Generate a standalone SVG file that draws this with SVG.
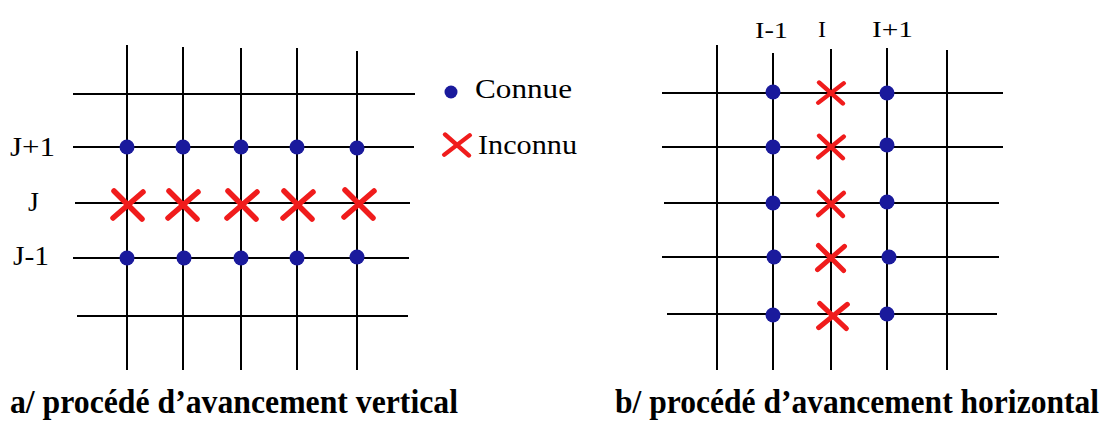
<svg xmlns="http://www.w3.org/2000/svg" xmlns:xlink="http://www.w3.org/1999/xlink" width="1108" height="422" viewBox="0 0 1108 422">
<style>
  .g { stroke: #000; stroke-width: 2; fill: none; }
  .dot { fill: #1a1a9c; }
  .lbl { font-family: "Liberation Serif", "Times New Roman", serif; fill: #000; }
  .cap { font-family: "Liberation Serif", "Times New Roman", serif; font-weight: bold; fill: #000; }
</style>
<defs>
  <path id="x" d="M-14,-14 L14,14 M-15,13 L15,-13" stroke="#f01c1c" stroke-width="5.5" stroke-linecap="round" fill="none"/>
  <circle id="d" r="7.5" class="dot"/>
</defs>
<rect width="1108" height="422" fill="#fff"/>

<g id="grid-a" class="g">
  <line x1="127" y1="45" x2="127" y2="370"/>
  <line x1="183" y1="47" x2="183" y2="370"/>
  <line x1="241" y1="48" x2="241" y2="370"/>
  <line x1="297" y1="48" x2="297" y2="370"/>
  <line x1="357" y1="51" x2="357" y2="370"/>
  <line x1="73" y1="94" x2="415" y2="94"/>
  <line x1="73" y1="147" x2="414" y2="147"/>
  <line x1="75" y1="203" x2="410" y2="203"/>
  <line x1="73" y1="258" x2="409" y2="258"/>
  <line x1="77" y1="316" x2="408" y2="316"/>
</g>
<g id="points-a">
  <use xlink:href="#d" x="127" y="147"/><use xlink:href="#d" x="183" y="147"/><use xlink:href="#d" x="241" y="147"/><use xlink:href="#d" x="297" y="147"/><use xlink:href="#d" x="357" y="148"/>
  <use xlink:href="#d" x="127" y="258"/><use xlink:href="#d" x="184" y="258"/><use xlink:href="#d" x="241" y="258"/><use xlink:href="#d" x="297" y="258"/><use xlink:href="#d" x="357" y="257"/>
  <use xlink:href="#x" x="128" y="205"/><use xlink:href="#x" x="183" y="205"/><use xlink:href="#x" x="242" y="205"/><use xlink:href="#x" x="298" y="205"/><use xlink:href="#x" x="359" y="204"/>
</g>
<g id="labels-a" class="lbl" font-size="28">
  <text x="10" y="156" textLength="45" lengthAdjust="spacingAndGlyphs">J+1</text>
  <text x="28" y="211">J</text>
  <text x="13" y="265" textLength="36" lengthAdjust="spacingAndGlyphs">J-1</text>
</g>

<g id="legend">
  <circle cx="451" cy="92" r="6.5" class="dot"/>
  <text class="lbl" x="475" y="98" font-size="28" textLength="97" lengthAdjust="spacingAndGlyphs">Connue</text>
  <use xlink:href="#x" transform="translate(457,145) scale(0.85,0.75)"/>
  <text class="lbl" x="478" y="154" font-size="28" textLength="99" lengthAdjust="spacingAndGlyphs">Inconnu</text>
</g>

<g id="grid-b" class="g">
  <line x1="717" y1="45" x2="717" y2="370"/>
  <line x1="773" y1="53" x2="773" y2="370"/>
  <line x1="831" y1="49" x2="831" y2="370"/>
  <line x1="887" y1="48" x2="887" y2="370"/>
  <line x1="947" y1="50" x2="947" y2="370"/>
  <line x1="662" y1="93" x2="1003" y2="93"/>
  <line x1="662" y1="147" x2="1003" y2="147"/>
  <line x1="664" y1="203" x2="999" y2="203"/>
  <line x1="662" y1="257" x2="999" y2="257"/>
  <line x1="667" y1="314" x2="997" y2="314"/>
</g>
<g id="points-b">
  <use xlink:href="#d" x="773" y="92"/><use xlink:href="#d" x="773" y="147"/><use xlink:href="#d" x="773" y="203"/><use xlink:href="#d" x="774" y="257"/><use xlink:href="#d" x="773" y="315"/>
  <use xlink:href="#d" x="887" y="93"/><use xlink:href="#d" x="887" y="145"/><use xlink:href="#d" x="887" y="202"/><use xlink:href="#d" x="889" y="257"/><use xlink:href="#d" x="887" y="314"/>
  <use xlink:href="#x" transform="translate(831,93) scale(0.85,0.75)"/>
  <use xlink:href="#x" transform="translate(831,147) scale(0.85,0.8)"/>
  <use xlink:href="#x" transform="translate(831,204) scale(0.85,0.85)"/>
  <use xlink:href="#x" transform="translate(831,258) scale(0.9,0.9)"/>
  <use xlink:href="#x" transform="translate(833,316) scale(0.95,0.9)"/>
</g>
<g id="labels-b" class="lbl" font-size="24">
  <text x="755" y="38" textLength="33" lengthAdjust="spacingAndGlyphs">I-1</text>
  <text x="818" y="37">I</text>
  <text x="872" y="37" textLength="41" lengthAdjust="spacingAndGlyphs">I+1</text>
</g>

<g id="captions" class="cap" font-size="31">
  <text transform="translate(10,413) scale(1,1.12)" textLength="448" lengthAdjust="spacingAndGlyphs">a/ procédé d’avancement vertical</text>
  <text transform="translate(615,413) scale(1,1.12)" textLength="484" lengthAdjust="spacingAndGlyphs">b/ procédé d’avancement horizontal</text>
</g>
</svg>
